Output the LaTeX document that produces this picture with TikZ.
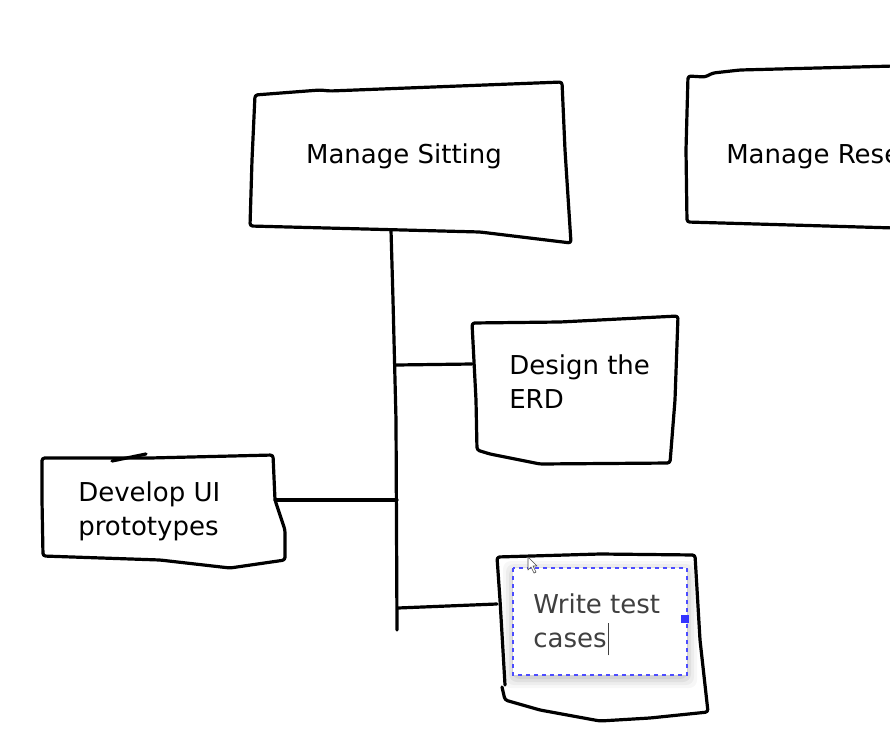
\documentclass[tikz,border=0pt]{standalone}
\usepackage{fontspec}
\setmainfont{DejaVu Sans}
\begin{document}
\begin{tikzpicture}[x=0.75pt,y=-0.75pt,
  hand/.style={line width=2.4pt, line join=round, line cap=round, rounded corners=2pt},
  lbl/.style={font=\fontsize{19.5}{25.5}\selectfont, align=left, inner sep=0pt, anchor=west},
  wire/.style={line width=2.4pt, line cap=round}]
\useasboundingbox (0,0) rectangle (890,736);
\fill[white] (0,0) rectangle (890,736);

% ---------- Box 1: Manage Sitting
\draw[hand] (255,95) -- (320,90) -- (330,91) -- (562,82) -- (565,150) -- (571,243) -- (480,232) -- (250,226) -- (252,160) -- cycle;
\node[lbl, anchor=center] (sit) at (404,156) {Manage Sitting};
\coordinate (sitB) at (391,230);

% ---------- Box 2: Manage Research (cut off)
\draw[hand] (895,66) -- (740,70) -- (713,73) -- (705,77) -- (688,76) -- (686,150) -- (687,222) -- (895,228);
\node[lbl] (res) at (726,157) {Manage Rese};

% ---------- Box 3: Design the ERD
\draw[hand] (472,323) -- (560,322) -- (678,316) -- (675,400) -- (670,463) -- (540,464) -- (520,460) -- (490,454) -- (477,450) -- (476,400) -- cycle;
\node[lbl] (erd) at (509,382) {Design the\\ERD};
\coordinate (erdL) at (472,364);

% ---------- Box 4: Develop UI prototypes
\draw[hand] (42,458) -- (150,458) -- (273,455) -- (275,500) -- (280,515) -- (285,530) -- (285,560) -- (230,568) -- (160,560) -- (43,556) -- (42,500) -- cycle;
\draw[hand] (112,461) -- (146,454);
\node[lbl] (ui) at (78,511) {Develop UI\\prototypes};
\coordinate (uiR) at (275,500);

% ---------- Box 5: Write test cases (selected)
\foreach \o/\a in {10/0.03,7/0.04,4/0.05,1/0.06}{
  \fill[black, opacity=\a, rounded corners=6pt] (513-\o,568-\o+3) rectangle (687+\o,675+\o+3);
}
\fill[white] (513,568) rectangle (687,675);
\draw[hand] (505,685) -- (500,600) -- (497,557) -- (600,554) -- (695,555) -- (700,640) -- (708,712) -- (650,718) -- (600,721) -- (540,710) -- (505,700) -- (502,687);
\draw[blue!70!white, dashed, line width=0.8pt] (513,568) rectangle (687,675);
\fill[blue!80!white] (681,615) rectangle (689,623);
\node[lbl, text=black!75] (wtc) at (533,621) {Write test\\cases\kern1pt\smash{\rule[-0.3em]{0.6pt}{1.25em}}};
\coordinate (wtcL) at (497,604);
% mouse pointer
\draw[black!70, fill=white, line width=0.5pt, line join=round] (528,557) -- (528,570) -- (531,567) -- (534,573) -- (536,572) -- (533,566) -- (537,566) -- cycle;

% ---------- Connectors
\coordinate (trunkB) at (397,630);
\coordinate (j1) at (396,365);
\coordinate (j2) at (397,500);
\coordinate (j3) at (398,608);
\draw[wire] (sitB) -- (393,300) -- (396,420) -- (trunkB);
\draw[wire] (j1) -- (erdL);
\draw[wire] (uiR) -- (j2);
\draw[wire] (j3) -- (wtcL);
\end{tikzpicture}
\end{document}
